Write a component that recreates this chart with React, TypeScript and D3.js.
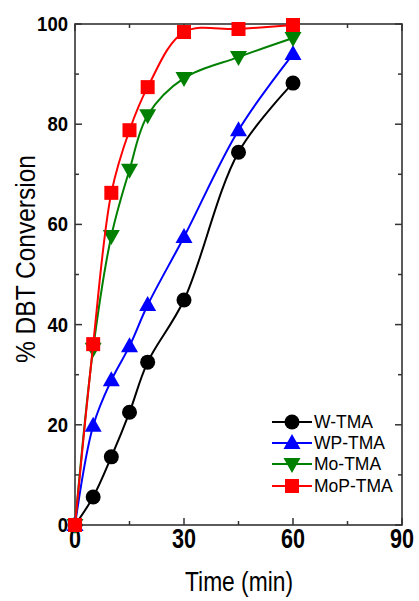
import React from "react";
import * as d3 from "d3";

const times = [0, 5, 10, 15, 20, 30, 45, 60];
const wTMA = [0, 5.6, 13.6, 22.5, 32.5, 44.9, 74.4, 88.2];
const wpTMA = [0, 19.8, 28.9, 35.7, 43.9, 57.5, 78.8, 94.0];
const moTMA = [0, 35.2, 57.7, 70.9, 81.8, 89.2, 93.4, 97.2];
const mopTMA = [0, 36.1, 66.3, 78.8, 87.4, 98.4, 99.0, 99.8];
const seriesNames = ["W-TMA", "WP-TMA", "Mo-TMA", "MoP-TMA"];
const seriesColors = ["#000000", "#0000ff", "#008000", "#ff0000"];
const seriesShapes = ["circle", "triangle", "down", "square"];
const xTicks = [0, 30, 60, 90];
const xMinor = [15, 45, 75];
const yTicks = [0, 20, 40, 60, 80, 100];
const yMinor = [10, 30, 50, 70, 90];

const W = 419, H = 601;
const L = 75, R = 402, T = 24, B = 525;
const FONT = "'Liberation Sans', Arial, sans-serif";

function Marker({ shape, x, y, color }: { shape: string; x: number; y: number; color: string }) {
  if (shape === "circle") return <circle cx={x} cy={y} r={7.5} fill={color} />;
  if (shape === "square") return <rect x={x - 7} y={y - 7} width={14} height={14} fill={color} />;
  if (shape === "triangle")
    return <path d={`M${x},${y - 9} L${x + 8.5},${y + 6} L${x - 8.5},${y + 6} Z`} fill={color} />;
  return <path d={`M${x},${y + 9} L${x + 8.5},${y - 6} L${x - 8.5},${y - 6} Z`} fill={color} />;
}

export default function App() {
  const x = d3.scaleLinear().domain([0, 90]).range([L, R]);
  const y = d3.scaleLinear().domain([0, 100]).range([B, T]);
  const allSeries = [wTMA, wpTMA, moTMA, mopTMA];
  const line = d3
    .line<number>()
    .x((_, i) => x(times[i]))
    .y((d) => y(d))
    .curve(d3.curveCatmullRom.alpha(0.5));

  const axisColor = "#333";
  const legendRows = [422, 443, 464, 486];

  return (
    <svg width={W} height={H} style={{ position: "absolute", left: 0, top: 0 }}>
      <rect width={W} height={H} fill="#fff" />
      {xTicks.map((t) => (
        <g key={"xt" + t}>
          <line x1={x(t)} x2={x(t)} y1={B} y2={B - 7} stroke={axisColor} strokeWidth={1.5} />
          <line x1={x(t)} x2={x(t)} y1={T} y2={T + 7} stroke={axisColor} strokeWidth={1.5} />
          <text
            x={x(t)}
            y={548}
            textAnchor="middle"
            fontFamily={FONT}
            fontWeight="bold"
            fontSize={27}
            textLength={String(t).length * 12}
            lengthAdjust="spacingAndGlyphs"
            fill="#000"
          >
            {t}
          </text>
        </g>
      ))}
      {xMinor.map((t) => (
        <g key={"xm" + t}>
          <line x1={x(t)} x2={x(t)} y1={B} y2={B - 4} stroke={axisColor} strokeWidth={1.5} />
          <line x1={x(t)} x2={x(t)} y1={T} y2={T + 4} stroke={axisColor} strokeWidth={1.5} />
        </g>
      ))}
      {yTicks.map((t) => (
        <g key={"yt" + t}>
          <line x1={L} x2={L + 7} y1={y(t)} y2={y(t)} stroke={axisColor} strokeWidth={1.5} />
          <line x1={R} x2={R - 7} y1={y(t)} y2={y(t)} stroke={axisColor} strokeWidth={1.5} />
          <text
            x={68}
            y={y(t) + 7}
            textAnchor="end"
            fontFamily={FONT}
            fontWeight="bold"
            fontSize={20}
            textLength={String(t).length * 10.3}
            lengthAdjust="spacingAndGlyphs"
            fill="#000"
          >
            {t}
          </text>
        </g>
      ))}
      {yMinor.map((t) => (
        <g key={"ym" + t}>
          <line x1={L} x2={L + 4} y1={y(t)} y2={y(t)} stroke={axisColor} strokeWidth={1.5} />
          <line x1={R} x2={R - 4} y1={y(t)} y2={y(t)} stroke={axisColor} strokeWidth={1.5} />
        </g>
      ))}
      <rect x={L} y={T} width={R - L} height={B - T} fill="none" stroke={axisColor} strokeWidth={1.6} />

      {allSeries.map((s, si) => (
        <g key={"s" + si}>
          <path d={line(s) || ""} fill="none" stroke={seriesColors[si]} strokeWidth={2} />
          {s.map((v, i) => (
            <Marker key={i} shape={seriesShapes[si]} x={x(times[i])} y={y(v)} color={seriesColors[si]} />
          ))}
        </g>
      ))}

      {seriesNames.map((n, i) => (
        <g key={"lg" + n}>
          <line x1={272} x2={312} y1={legendRows[i]} y2={legendRows[i]} stroke={seriesColors[i]} strokeWidth={2} />
          <Marker shape={seriesShapes[i]} x={292} y={legendRows[i]} color={seriesColors[i]} />
          <text x={314} y={legendRows[i] + 6} fontFamily={FONT} fontSize={17.5} fill="#000">
            {n}
          </text>
        </g>
      ))}

      <text
        x={239}
        y={591}
        textAnchor="middle"
        fontFamily={FONT}
        fontSize={28}
        textLength={108}
        lengthAdjust="spacingAndGlyphs"
        fill="#000"
      >
        Time (min)
      </text>
      <text
        transform={`translate(35,259) rotate(-90)`}
        textAnchor="middle"
        fontFamily={FONT}
        fontSize={28}
        textLength={208}
        lengthAdjust="spacingAndGlyphs"
        fill="#000"
      >
        %  DBT Conversion
      </text>
    </svg>
  );
}
